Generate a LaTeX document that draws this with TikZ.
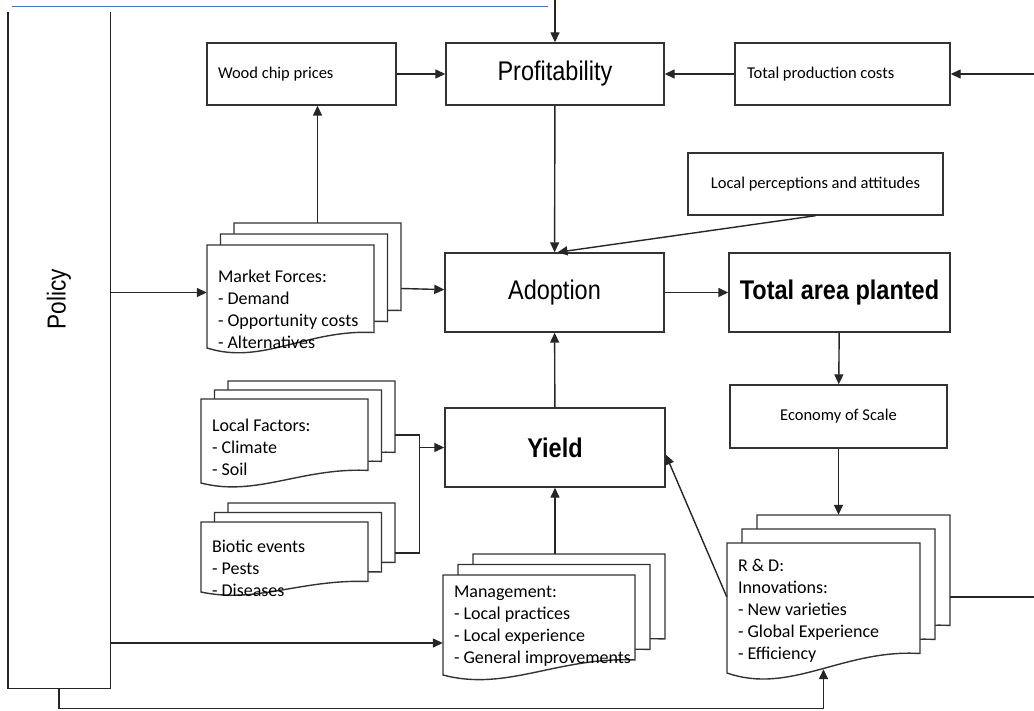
\documentclass[tikz,border=0pt]{standalone}
\usepackage{fontspec}
\usepackage{graphicx}
\newfontfamily\calfont{Carlito}
\newfontfamily\arialfont{Liberation Sans}
\usetikzlibrary{arrows.meta,calc}

\definecolor{rulecol}{RGB}{68,114,196}
\newcommand{\narrow}[1]{\scalebox{0.87}[1]{#1}}

\tikzstyle{box}=[draw=black!80, line width=1.4pt, inner sep=0pt, minimum height=62pt, font=\calfont\fontsize{16.5}{20}\selectfont]
\tikzstyle{leftbox}=[box, align=flush left]
\tikzstyle{bigbox}=[box, minimum height=79pt, font=\arialfont\fontsize{27}{30}\selectfont]
\tikzstyle{boldbox}=[bigbox, font=\arialfont\bfseries\fontsize{27}{30}\selectfont]
\tikzstyle{edge}=[draw=black!85, line width=1.4pt]
\tikzstyle{arrow}=[edge, -{Triangle[length=10pt,width=9pt]}]
\tikzstyle{sheet}=[fill=white, draw=black!80, line width=1.4pt]
\tikzstyle{doctext}=[inner sep=0pt, anchor=north west, align=flush left, font=\calfont\fontsize{18}{22}\selectfont]

% one sheet with a wavy bottom: name, left, top, width, height
\newcommand{\docsheet}[5]{%
  \path[sheet] ({#2},{#3}) -- ({#2+#4},{#3}) -- ({#2+#4},{#3+0.85*#5})
    .. controls ({#2+0.6*#4},{#3+0.815*#5}) and ({#2+0.33*#4},{#3+1.17*#5}) .. ({#2},{#3+#5}) -- cycle;
  \node[inner sep=0pt, minimum width=#4pt, minimum height=#5pt] (#1) at ({#2+0.5*#4},{#3+0.5*#5}) {};}
% three sheets: name, left, top, width, height, dx, dy
\newcommand{\docstack}[7]{%
  \docsheet{#1c}{#2+2*#6}{#3-2*#7}{#4}{#5}%
  \docsheet{#1b}{#2+#6}{#3-#7}{#4}{#5}%
  \docsheet{#1}{#2}{#3}{#4}{#5}}

\begin{document}
\begin{tikzpicture}[x=1pt, y=-1pt]
  \useasboundingbox[fill=white] (0,0) rectangle (1034,711);
  \draw[line width=1pt, rulecol] (12,7) -- (548,7);

  \node[leftbox, inner xsep=11pt, text width=167pt] (wood) at (301.5,74) {Wood chip prices};
  \node[bigbox, minimum width=218pt, minimum height=62pt] (profit) at (555,74) {\narrow{Profitability}};
  \node[leftbox, inner xsep=12pt, text width=191pt] (cost) at (842.5,74) {Total production costs};
  \node[box, minimum width=255pt] (percept) at (815.5,184) {Local perceptions and attitudes};
  \node[bigbox, minimum width=219pt] (adopt) at (554.5,292.5) {\narrow{Adoption}};
  \node[boldbox, minimum width=221pt] (area) at (839.5,292.5) {\narrow{Total area planted}};
  \node[box, minimum width=217pt, minimum height=63pt] (econ) at (838.5,416.5) {Economy of Scale};
  \node[boldbox, minimum width=220pt] (yield) at (555,447.5) {\narrow{Yield}};

  % policy, top edge cut off
  \node[inner sep=0pt, minimum width=102pt, minimum height=676pt] (policy) at (59,350) {};
  \path[edge] (policy.north west) -- (policy.south west) -- (policy.south east) -- (policy.north east);
  \node[rotate=90, font=\arialfont\fontsize{26}{30}\selectfont] (policy-t) at (59,299) {\narrow{Policy}};

  \docstack{mkt}{207}{245}{167}{103}{13.5}{11}
  \node[doctext] (mkt-t) at ([xshift=11pt,yshift=-25pt]mkt.north west) {Market Forces:\\- Demand\\- Opportunity costs\\- Alternatives};
  \docstack{loc}{201}{399}{167}{84}{13.5}{9}
  \node[doctext] (loc-t) at ([xshift=11pt,yshift=-20pt]loc.north west) {Local Factors:\\- Climate\\- Soil};
  \docstack{bio}{201}{522}{167}{70}{13.5}{9.5}
  \node[doctext] (bio-t) at ([xshift=11pt,yshift=-18pt]bio.north west) {Biotic events\\- Pests\\- Diseases};
  \docstack{mgmt}{443}{575}{192}{100}{15}{10.5}
  \node[doctext] (mgmt-t) at ([xshift=11pt,yshift=-11pt]mgmt.north west) {Management:\\- Local practices\\- Local experience\\- General improvements};
  \docstack{rd}{727}{543}{193}{130}{15}{14}
  \node[doctext] (rd-t) at ([xshift=11pt,yshift=-16pt]rd.north west) {R \& D:\\Innovations:\\- New varieties\\- Global Experience\\- Efficiency};

  \coordinate (topin) at (555,0);
  \coordinate (costin) at (1034,74);
  \coordinate (rdout) at (1034,597);
  \coordinate (mkin) at ([yshift=4pt]mkt.west);
  \coordinate (mgin) at ([yshift=-18pt]mgmt.west);
  \coordinate (jn) at ([xshift=-25pt]yield.west);
  \coordinate (bot) at ([yshift=-20pt]policy.south);

  \foreach \source/\dest in {topin/profit, wood/profit, cost/profit, costin/cost,
      profit/adopt, adopt/area, area/econ, yield/adopt, jn/yield}
    \path[arrow] (\source) -- (\dest);

  \path[arrow] (percept.south) -- ([xshift=3pt]adopt.north);
  \path[arrow] (mktc.north) -- (mktc.north |- wood.south);
  \path[arrow] (policy.east |- mkin) -- (mkin);
  \path[arrow] ([yshift=-14pt]mktc.east) -- (adopt);
  \path[arrow] (econ.south) -- (econ.south |- rdc.north);
  \path[edge] ([yshift=-17pt]rdc.east) -- (rdout);
  \path[arrow] ([yshift=11pt]rd.west) -- ([yshift=-7pt]yield.east);
  \path[arrow] (yield.south |- mgmtc.north) -- (yield.south);
  \path[arrow] (policy.east |- mgin) -- (mgin);
  \path[edge] ([yshift=-12pt]locc.east) -| (jn) |- ([yshift=-15pt]bioc.east);
  \path[arrow] (policy.south) -- (bot) -| ([yshift=4pt]rd.south);
\end{tikzpicture}
\end{document}
